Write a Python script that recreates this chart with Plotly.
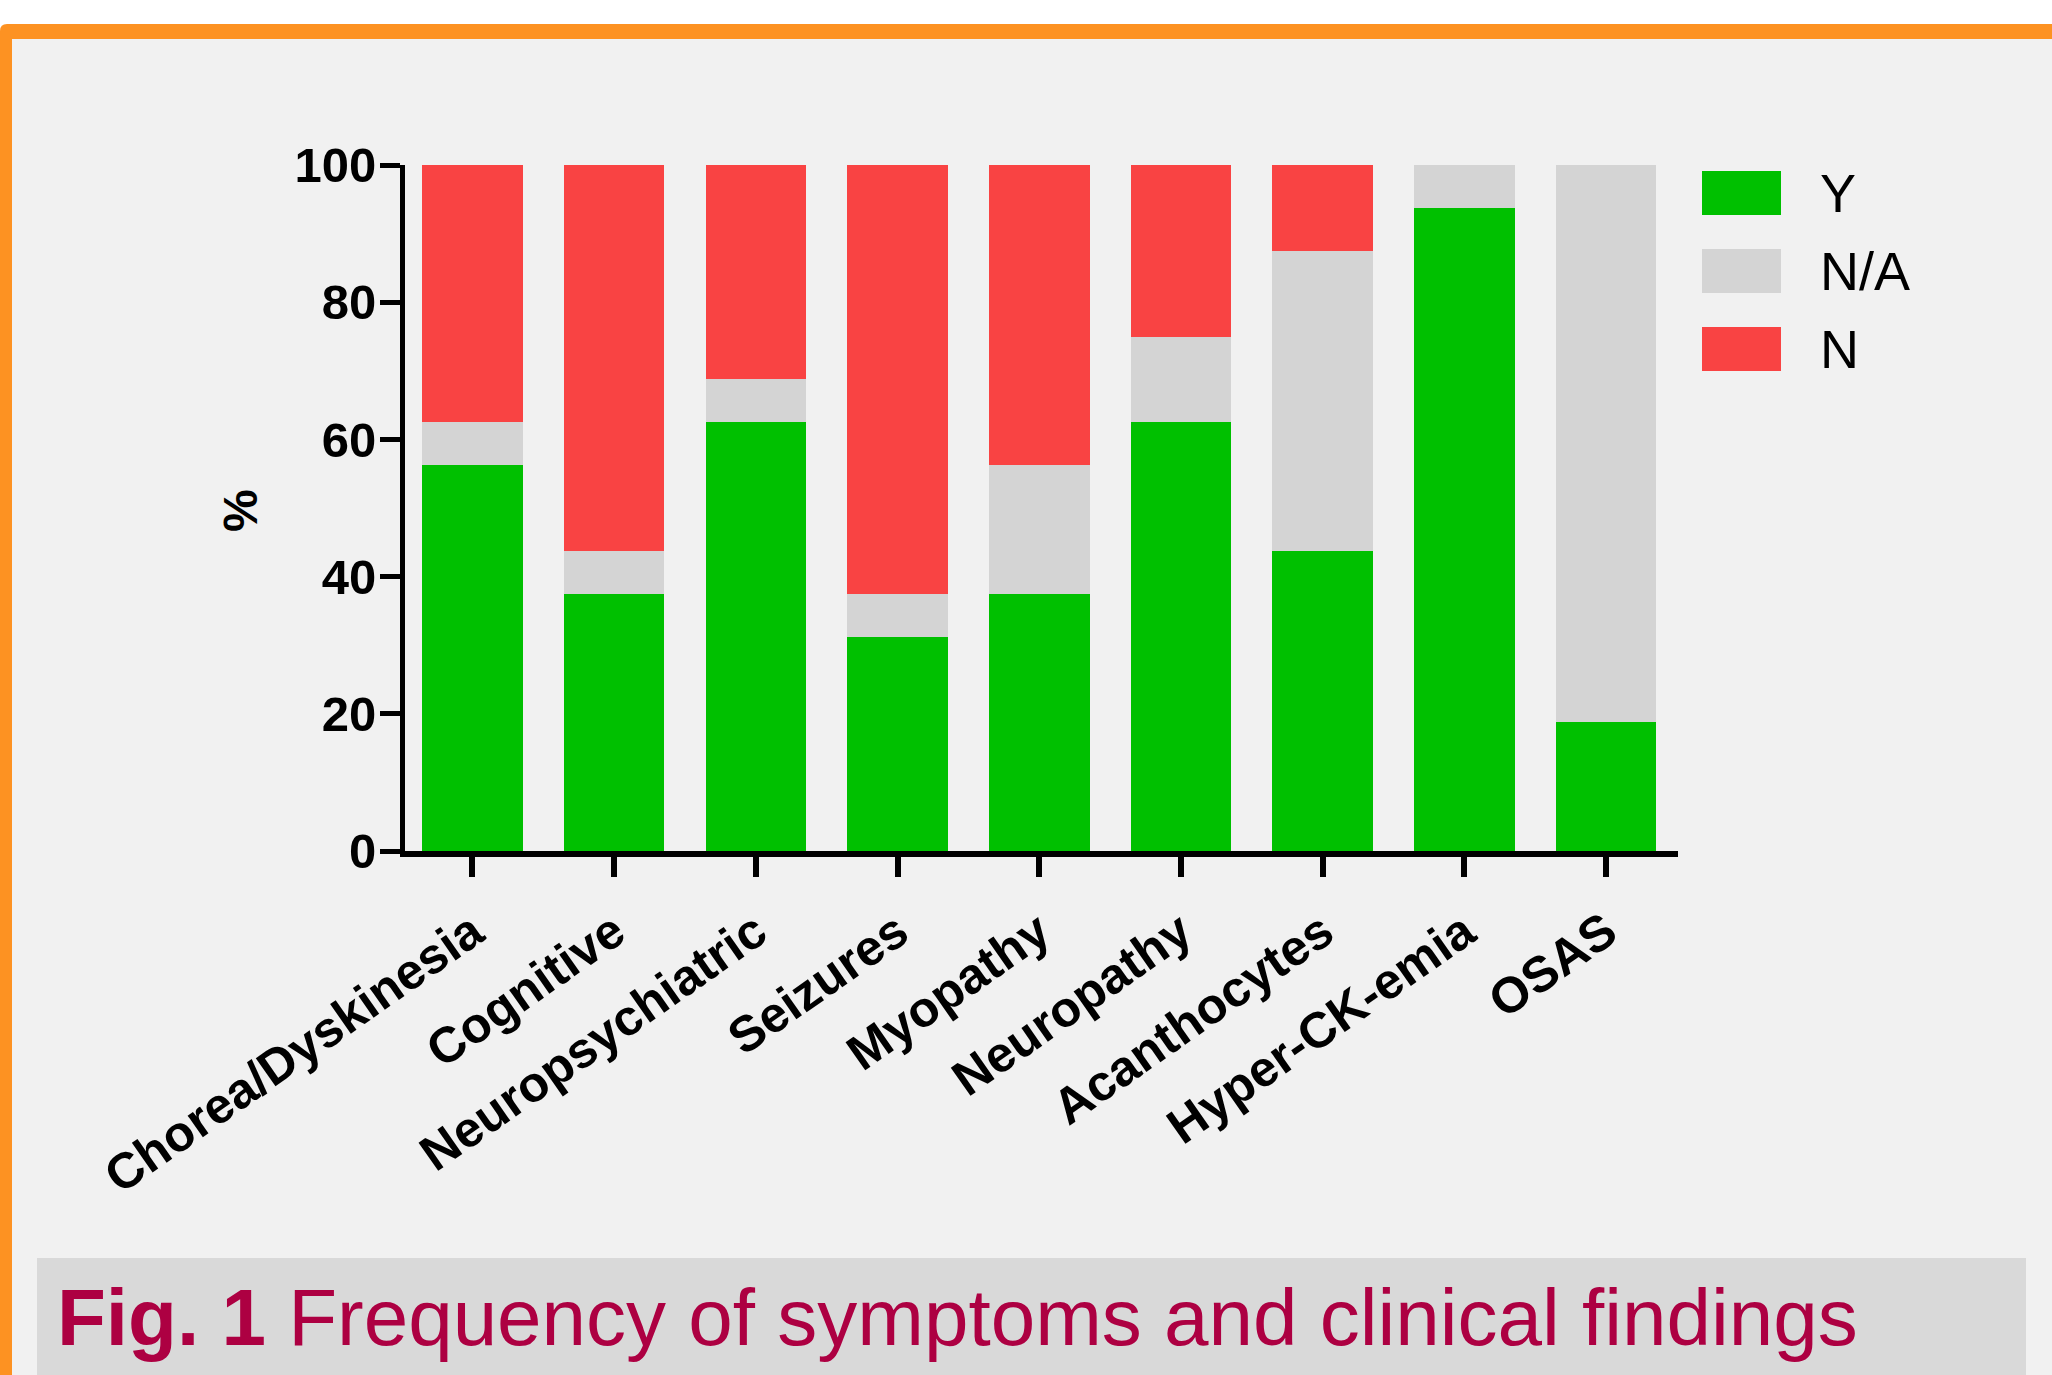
import plotly.graph_objects as go

categories = ["Chorea/Dyskinesia", "Cognitive", "Neuropsychiatric", "Seizures",
              "Myopathy", "Neuropathy", "Acanthocytes", "Hyper-CK-emia", "OSAS"]
y_values = [56.25, 37.5, 62.5, 31.25, 37.5, 62.5, 43.75, 93.75, 18.75]
na_values = [6.25, 6.25, 6.25, 6.25, 18.75, 12.5, 43.75, 6.25, 81.25]
n_values = [37.5, 56.25, 31.25, 62.5, 43.75, 25.0, 12.5, 0.0, 0.0]
y_ticks = [0, 20, 40, 60, 80, 100]
series_names = ["Y", "N/A", "N"]

GREEN = "#00c000"
GRAY = "#d4d4d4"
RED = "#f94343"
colors = [GREEN, GRAY, RED]

W, H = 2052, 1375
L, T, PR, PB = 405, 165, 1678, 851  # plot area pixel bounds
PW, PH = PR - L, PB - T


def X(px):
    return (px - L) / PW


def Y(py):
    return (PB - py) / PH


fig = go.Figure()
for name, vals, col in zip(series_names, [y_values, na_values, n_values], colors):
    fig.add_trace(go.Bar(x=list(range(len(categories))), y=vals, name=name,
                         marker=dict(color=col, line=dict(width=0)),
                         width=0.71, showlegend=False))

shapes = []
# orange frame with rounded corner
r = 7
shapes.append(dict(type="path", xref="paper", yref="paper",
                   path=f"M {X(0)},{Y(1400)} L {X(0)},{Y(24 + r)} Q {X(0)},{Y(24)} {X(r)},{Y(24)} "
                        f"L {X(2070)},{Y(24)} L {X(2070)},{Y(1400)} Z",
                   fillcolor="#fd9222", line=dict(width=0), layer="below"))
shapes.append(dict(type="rect", xref="paper", yref="paper",
                   x0=X(12), x1=X(2070), y0=Y(1400), y1=Y(39),
                   fillcolor="#f1f1f1", line=dict(width=0), layer="below"))
shapes.append(dict(type="rect", xref="paper", yref="paper",
                   x0=X(37), x1=X(2026), y0=Y(1400), y1=Y(1258),
                   fillcolor="#d9d9d9", line=dict(width=0), layer="below"))

annotations = []
# legend
leg_tops = [171, 249, 327]
for name, col, top in zip(series_names, colors, leg_tops):
    shapes.append(dict(type="rect", xref="paper", yref="paper",
                       x0=X(1702), x1=X(1781), y0=Y(top + 44), y1=Y(top),
                       fillcolor=col, line=dict(width=0)))
    annotations.append(dict(text=name, xref="paper", yref="paper",
                            x=X(1818), y=Y(top + 22), xanchor="left", yanchor="middle",
                            showarrow=False,
                            font=dict(family="Liberation Sans, Arial", size=54, color="black")))

annotations.append(dict(text="%", xref="paper", yref="paper", x=X(240), y=Y(510),
                        xanchor="center", yanchor="middle", textangle=-90, showarrow=False,
                        font=dict(family="Liberation Sans, Arial", size=48, color="black",
                                  weight="bold")))
annotations.append(dict(text="<b>Fig. 1</b> Frequency of symptoms and clinical findings",
                        xref="paper", yref="paper", x=X(55), y=Y(1317),
                        xanchor="left", yanchor="middle", showarrow=False,
                        font=dict(family="Liberation Sans, Arial", size=80, color="#ad0042")))

fig.update_layout(
    width=W, height=H,
    margin=dict(l=L, r=W - PR, t=T, b=H - PB, pad=0),
    paper_bgcolor="white",
    plot_bgcolor="rgba(0,0,0,0)",
    barmode="stack",
    bargap=0.29,
    shapes=shapes,
    annotations=annotations,
    showlegend=False,
)
fig.update_xaxes(range=[-0.476, 8.508], tickmode="array",
                 tickvals=list(range(len(categories))), ticktext=categories,
                 tickangle=-35, ticks="outside", ticklen=20, tickwidth=6, tickcolor="black",
                 ticklabelstandoff=6,
                 showline=True, linewidth=6, linecolor="black", showgrid=False, zeroline=False,
                 tickfont=dict(family="Liberation Sans, Arial", size=50, color="black",
                               weight="bold"))
fig.update_yaxes(range=[0, 100], tickmode="array", tickvals=y_ticks,
                 ticks="outside", ticklen=20, tickwidth=5, tickcolor="black",
                 ticklabelstandoff=-6,
                 showline=True, linewidth=5, linecolor="black", showgrid=False, zeroline=False,
                 tickfont=dict(family="Liberation Sans, Arial", size=49, color="black",
                               weight="bold"))

fig.write_html("out.html", config={"displayModeBar": False},
               post_script="document.body.style.margin='0px';")
